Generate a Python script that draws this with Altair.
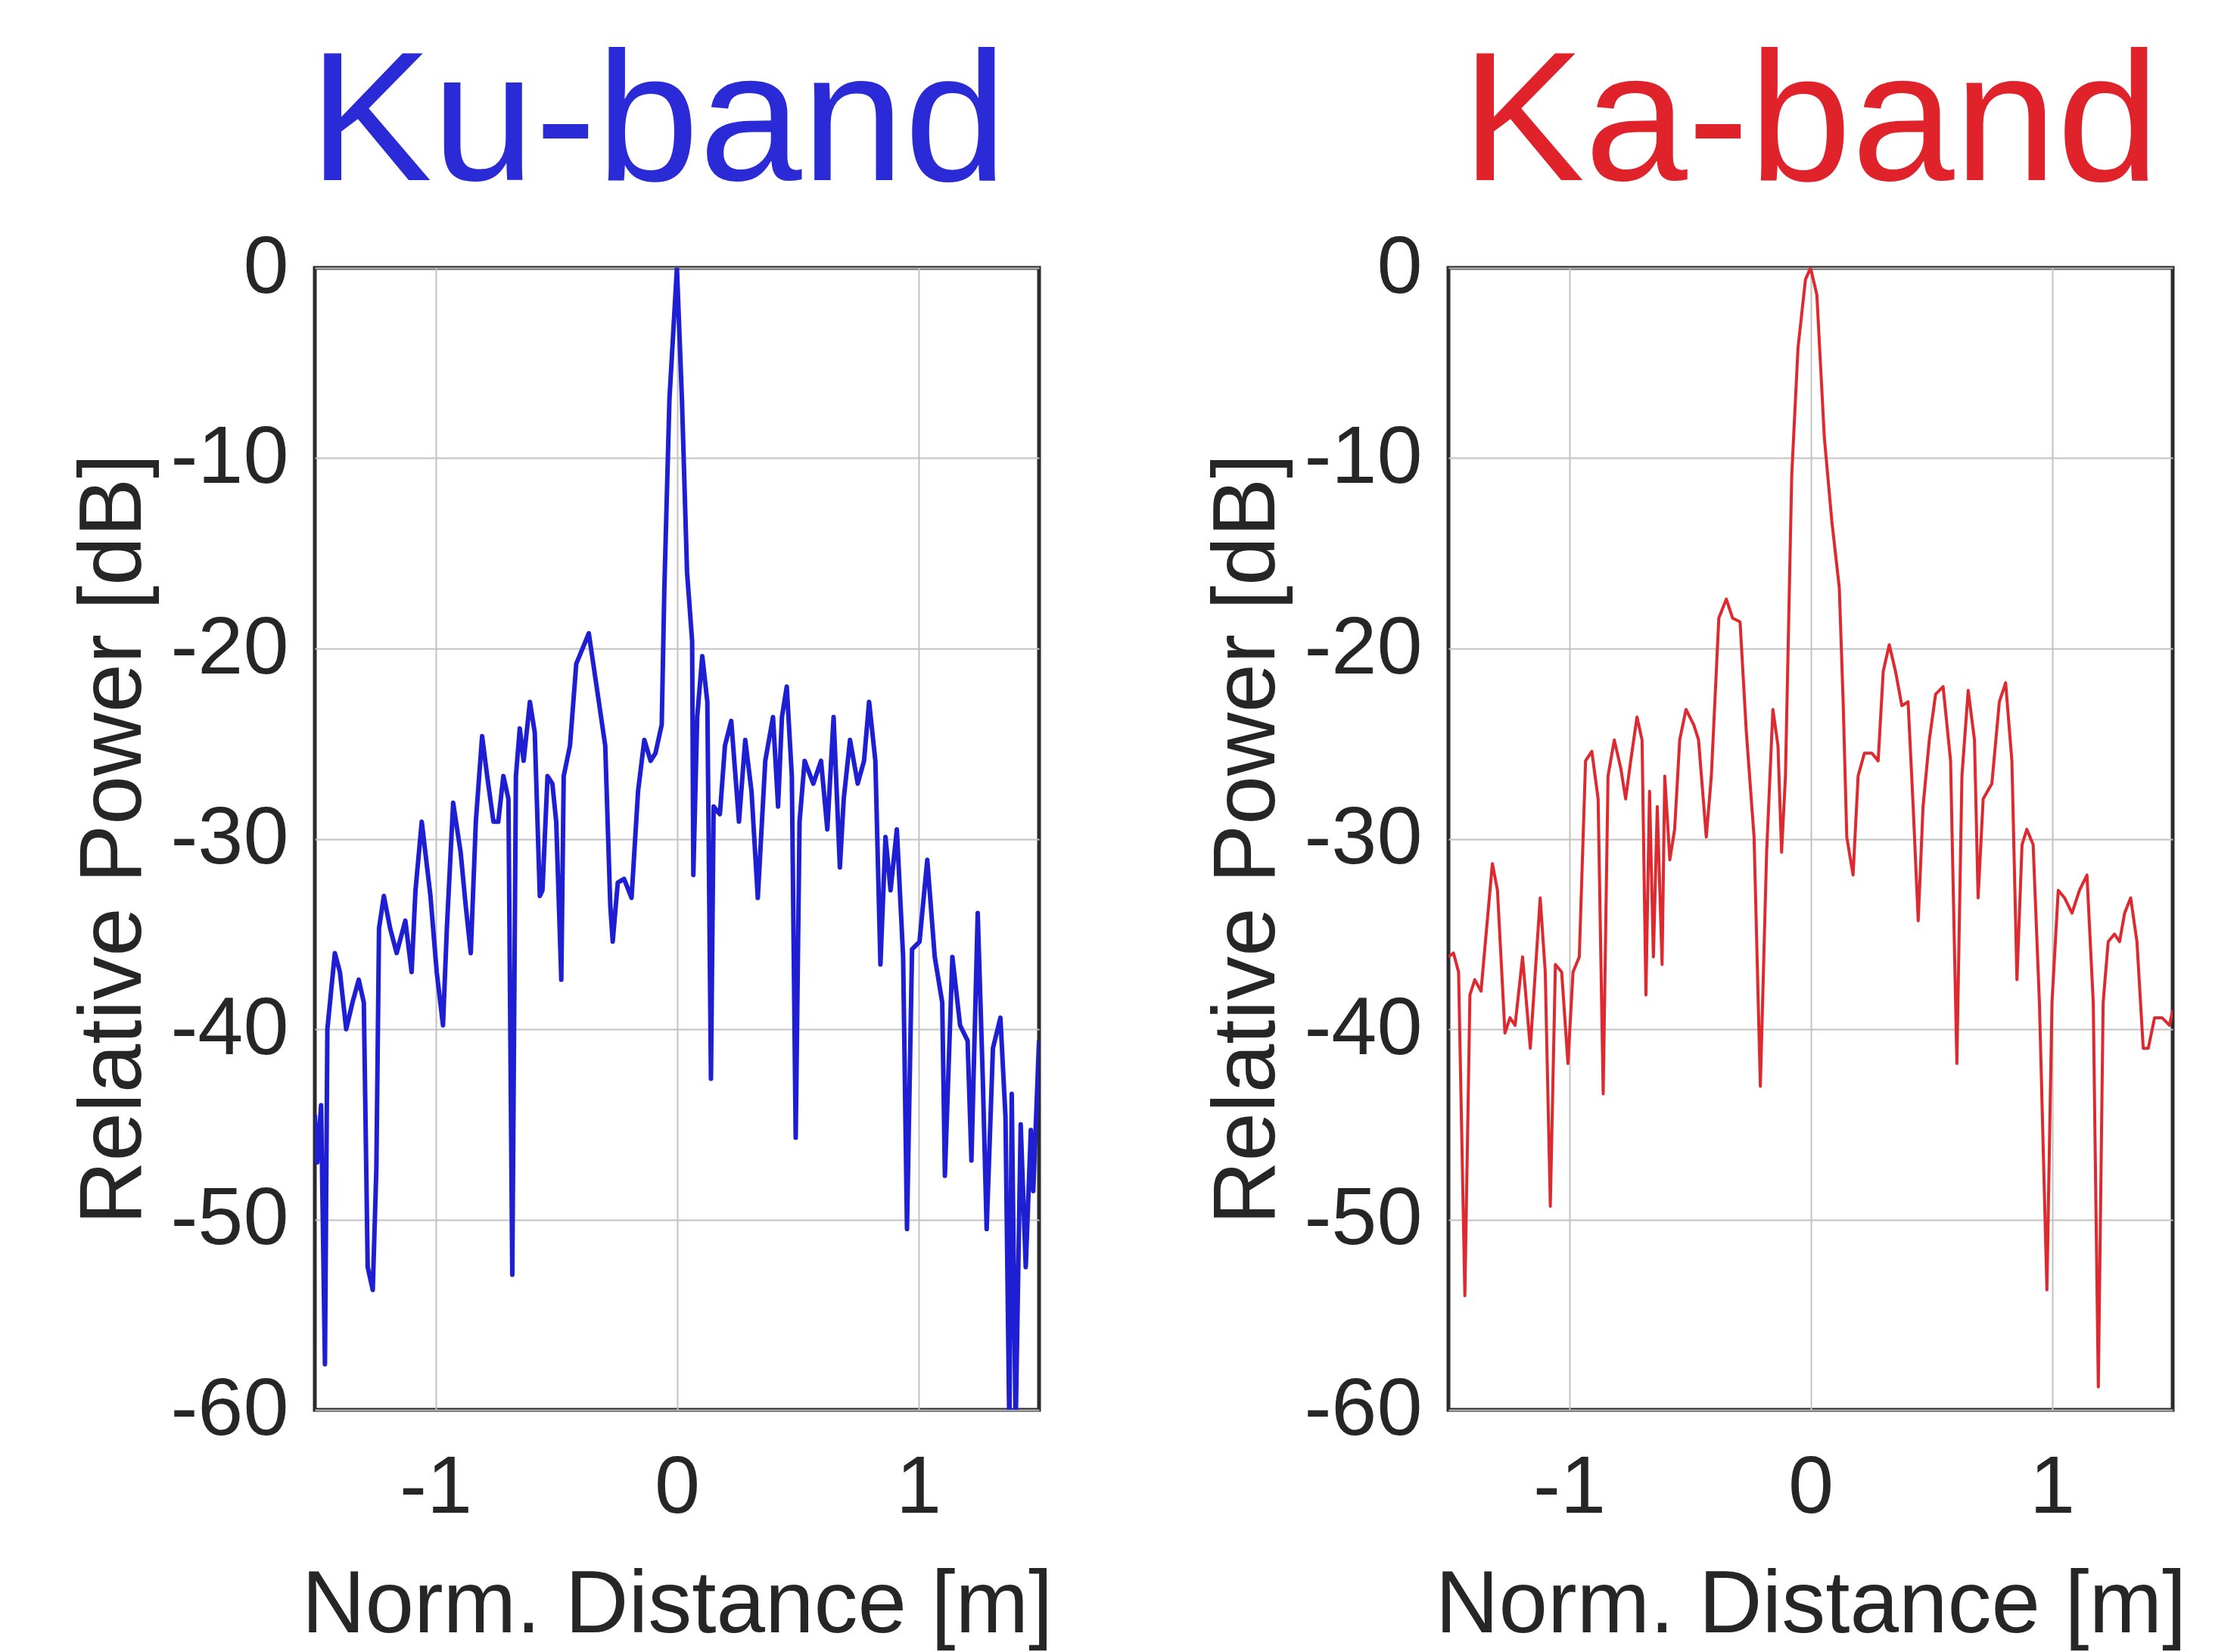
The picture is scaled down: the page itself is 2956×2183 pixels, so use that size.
import altair as alt
import pandas as pd

# Ku-band range profile: normalised distance [m] and relative power [dB]
ku_x = [-1.500, -1.490, -1.474, -1.458, -1.448, -1.417, -1.396, -1.370, -1.344, -1.318,
        -1.297, -1.281, -1.260, -1.245, -1.234, -1.214, -1.188, -1.161, -1.125, -1.099,
        -1.083, -1.057, -1.021, -0.995, -0.969, -0.953, -0.927, -0.896, -0.875, -0.854,
        -0.833, -0.807, -0.786, -0.760, -0.740, -0.719, -0.698, -0.682, -0.667, -0.651,
        -0.635, -0.609, -0.589, -0.568, -0.557, -0.536, -0.516, -0.500, -0.479, -0.469,
        -0.443, -0.417, -0.365, -0.328, -0.297, -0.276, -0.266, -0.245, -0.219, -0.188,
        -0.161, -0.135, -0.109, -0.089, -0.063, -0.052, -0.031, 0.000,
        0.021, 0.042, 0.063, 0.068, 0.084, 0.105, 0.126, 0.141, 0.152, 0.178,
        0.199, 0.225, 0.257, 0.283, 0.309, 0.335, 0.366, 0.398, 0.419, 0.435,
        0.455, 0.476, 0.492, 0.508, 0.529, 0.565, 0.597, 0.623, 0.649, 0.675,
        0.691, 0.717, 0.749, 0.775, 0.796, 0.822, 0.843, 0.864, 0.885, 0.911,
        0.937, 0.953, 0.974, 1.005, 1.037, 1.068, 1.099, 1.110, 1.141, 1.173,
        1.204, 1.220, 1.246, 1.267, 1.283, 1.309, 1.340, 1.361, 1.377, 1.387,
        1.403, 1.424, 1.445, 1.466, 1.476, 1.500]
ku_db = [-44.5, -47.0, -44.0, -57.6, -40.0, -36.0, -37.0, -40.0, -38.6, -37.4,
         -38.6, -52.5, -53.7, -47.3, -34.7, -33.0, -34.7, -36.0, -34.3, -37.0,
         -32.7, -29.1, -33.0, -37.0, -39.8, -34.7, -28.1, -30.7, -33.5, -36.0,
         -29.1, -24.6, -26.7, -29.1, -29.1, -26.7, -27.9, -52.9, -26.7, -24.2,
         -25.9, -22.8, -24.4, -33.0, -32.7, -26.7, -27.1, -29.1, -37.4, -26.7,
         -25.1, -20.8, -19.2, -22.4, -25.1, -33.5, -35.4, -32.3, -32.1, -33.1,
         -27.5, -24.8, -25.9, -25.5, -24.0, -16.8, -6.9, 0.0,
         -7.0, -16.0, -19.6, -31.9, -23.6, -20.4, -22.8, -42.6, -28.3, -28.7,
         -25.1, -23.8, -29.1, -24.8, -27.5, -33.1, -25.9, -23.6, -28.3, -23.6,
         -22.0, -26.7, -45.7, -29.1, -25.9, -27.1, -25.9, -29.5, -23.6, -31.5,
         -27.9, -24.8, -27.1, -25.9, -22.8, -25.9, -36.6, -29.9, -32.7, -29.5,
         -36.2, -50.5, -35.8, -35.4, -31.1, -36.2, -38.6, -47.7, -36.2, -39.8,
         -40.6, -46.9, -33.9, -42.6, -50.5, -41.0, -39.4, -44.6, -61.0, -43.4,
         -61.0, -45.0, -52.5, -45.3, -48.5, -40.6]

# Ka-band range profile
ka_x = [-1.500, -1.479, -1.458, -1.432, -1.411, -1.391, -1.365, -1.344, -1.318, -1.297,
        -1.266, -1.245, -1.224, -1.193, -1.161, -1.120, -1.099, -1.078, -1.057, -1.031,
        -1.005, -0.984, -0.958, -0.932, -0.906, -0.880, -0.859, -0.839, -0.813, -0.786,
        -0.766, -0.745, -0.719, -0.698, -0.682, -0.667, -0.651, -0.635, -0.615, -0.604,
        -0.583, -0.563, -0.542, -0.516, -0.484, -0.464, -0.432, -0.411, -0.380, -0.349,
        -0.323, -0.292, -0.266, -0.234, -0.208, -0.182, -0.156, -0.135, -0.120, -0.104,
        -0.078, -0.052, -0.021, 0.000,
        0.026, 0.057, 0.088, 0.119, 0.135, 0.150, 0.176, 0.197, 0.223, 0.254,
        0.280, 0.301, 0.326, 0.352, 0.378, 0.404, 0.425, 0.446, 0.466, 0.492,
        0.518, 0.549, 0.580, 0.606, 0.627, 0.653, 0.679, 0.694, 0.715, 0.751,
        0.782, 0.808, 0.834, 0.855, 0.876, 0.896, 0.922, 0.948, 0.979, 1.000,
        1.026, 1.052, 1.083, 1.114, 1.145, 1.171, 1.192, 1.212, 1.233, 1.259,
        1.280, 1.301, 1.326, 1.352, 1.378, 1.399, 1.425, 1.456, 1.487, 1.500]
ka_db = [-36.2, -36.0, -37.0, -54.0, -38.2, -37.4, -38.0, -35.0, -31.3, -32.7,
         -40.2, -39.4, -39.8, -36.2, -41.0, -33.1, -37.0, -49.3, -36.6, -37.0,
         -41.8, -37.0, -36.2, -25.9, -25.4, -27.9, -43.4, -26.7, -24.8, -26.3,
         -27.9, -25.9, -23.6, -24.8, -38.2, -27.5, -36.2, -28.3, -36.6, -26.7,
         -31.1, -29.5, -24.8, -23.2, -24.0, -24.8, -29.9, -26.7, -18.4, -17.4,
         -18.4, -18.6, -24.4, -29.9, -43.0, -30.7, -23.2, -25.1, -30.7, -26.7,
         -10.9, -4.2, -0.6, 0.0,
         -1.4, -8.9, -13.3, -16.8, -22.8, -29.9, -31.9, -26.7, -25.5, -25.5,
         -25.9, -21.2, -19.8, -21.2, -23.0, -22.8, -28.3, -34.3, -28.3, -24.8,
         -22.4, -22.0, -25.9, -41.8, -26.7, -22.2, -24.8, -33.1, -27.9, -27.1,
         -22.8, -21.8, -25.9, -37.4, -30.3, -29.5, -30.3, -38.6, -53.7, -38.6,
         -32.7, -33.1, -33.9, -32.7, -31.9, -38.6, -58.8, -38.6, -35.4, -35.0,
         -35.4, -33.9, -33.1, -35.4, -41.0, -41.0, -39.4, -39.4, -39.8, -39.0]

x_ticks = [-1, 0, 1]
y_ticks = [0, -10, -20, -30, -40, -50, -60]

FONT = "Liberation Sans"
TEXT = "#262626"


def profile(xs, ys, name, title_color, line_color, line_width, title_dx):
    df = pd.DataFrame({"x": xs, "db": ys, "i": list(range(len(xs)))})
    return (
        alt.Chart(
            df,
            title=alt.TitleParams(
                text=name, color=title_color, font=FONT, fontSize=244,
                fontWeight="normal", anchor="middle", baseline="alphabetic",
                offset=-182, dx=title_dx,
            ),
        )
        .mark_line(color=line_color, strokeWidth=line_width, clip=True,
                   strokeJoin="round")
        .encode(
            x=alt.X("x:Q",
                    scale=alt.Scale(domain=[-1.5, 1.5], nice=False, zero=False),
                    axis=alt.Axis(values=x_ticks, title="Norm. Distance [m]",
                                  labelExpr="toString(datum.value)")),
            y=alt.Y("db:Q",
                    scale=alt.Scale(domain=[-60, 0], nice=False, zero=False),
                    axis=alt.Axis(values=y_ticks, title="Relative Power [dB]",
                                  labelExpr="toString(datum.value)")),
            order="i:Q",
        )
        .properties(width=957, height=1509)
    )


ku = profile(ku_x, ku_db, "Ku-band", "#2a2ad6", "#1e1ed2", 6, -25)
ka = profile(ka_x, ka_db, "Ka-band", "#e0232b", "#dc2a30", 4, 0)

chart = (
    alt.hconcat(ku, ka, spacing=541, bounds="flush")
    .properties(padding={"left": 90, "top": 40, "right": 10, "bottom": 0},
                background="white")
    .configure_view(stroke="#2b2b2b", strokeWidth=5)
    .configure_axis(
        labelFont=FONT, titleFont=FONT, labelFontSize=108, titleFontSize=116,
        titleFontWeight="normal", labelColor=TEXT, titleColor=TEXT,
        grid=True, gridColor="#c2c2c2", gridWidth=2, domain=False,
        ticks=False, tickSize=0, labelFlush=False, labelOverlap=False,
    )
    .configure_axisLeft(labelPadding=35, titlePadding=15)
    .configure_axisBottom(labelPadding=50, titlePadding=44)
)

chart.save("out.html", embed_options={"renderer": "svg", "actions": False})
